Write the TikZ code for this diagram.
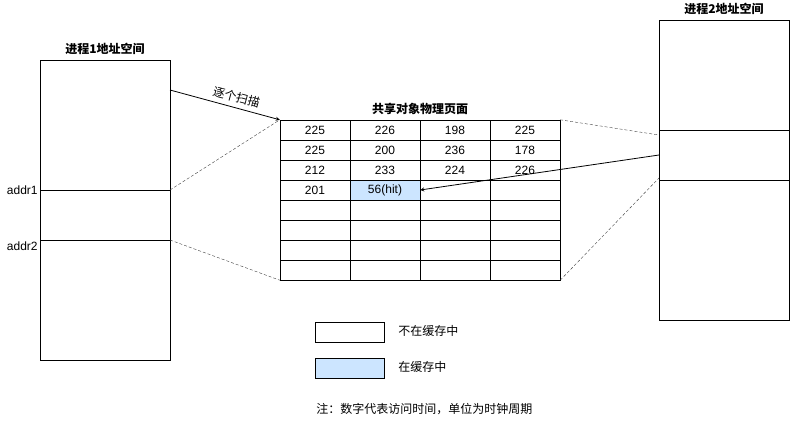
\documentclass[tikz,border=0pt]{standalone}
\usepackage{fontspec}
\usetikzlibrary{positioning}
\setmainfont{Liberation Sans}
\newfontfamily\cjk{Noto Sans CJK SC}
\definecolor{hitblue}{HTML}{CCE5FF}
\tikzset{
    cell/.style={draw, thin, minimum width=70pt, minimum height=20pt, inner sep=0pt, font=\fontsize{12}{13}\selectfont},
    title/.style={font=\cjk\bfseries\fontsize{12}{13}\selectfont},
    note/.style={font=\cjk\fontsize{12}{13}\selectfont, anchor=west, inner sep=0pt},
    link/.style={dashed, dash pattern=on 3pt off 2pt, thin, black!75}
}
\begin{document}
\begin{tikzpicture}[x=1pt, y=-1pt, line width=0.8pt]
        \useasboundingbox (0,0) rectangle (790,421);
        % process 1
        \node[draw, minimum width=130pt, minimum height=300pt, inner sep=0pt] (p1) at (105,210) {};
        \node[title, above=1pt of p1] (p1title) {进程1地址空间};
        \coordinate (a1l) at (40,190);  \coordinate (a1r) at (170,190);
        \coordinate (a2l) at (40,240);  \coordinate (a2r) at (170,240);
        \draw (a1l) -- (a1r);
        \draw (a2l) -- (a2r);
        \node[anchor=east, inner sep=2pt, font=\fontsize{12}{13}\selectfont] (addr1) at (a1l) {addr1};
        \node[anchor=east, inner sep=2pt, font=\fontsize{12}{13}\selectfont] (addr2) at ([yshift=-6pt]a2l) {addr2};

        % shared page
        \foreach \r/\a/\b/\c/\d in {1/225/226/198/225, 2/225/200/236/178, 3/212/233/224/226, 4/201/{}/{}/{},
                                    5/{}/{}/{}/{}, 6/{}/{}/{}/{}, 7/{}/{}/{}/{}, 8/{}/{}/{}/{}}{
            \node[cell] (c\r-1) at (315,110+20*\r) {\a};
            \node[cell] (c\r-2) at (385,110+20*\r) {\b};
            \node[cell] (c\r-3) at (455,110+20*\r) {\c};
            \node[cell] (c\r-4) at (525,110+20*\r) {\d};
        }
        \node[cell, fill=hitblue] (hit) at (c4-2) {56(hit)};
        \node[title, above=1pt of c1-2.north east] (pagetitle) {共享对象物理页面};

        % process 2
        \node[draw, minimum width=130pt, minimum height=300pt, inner sep=0pt] (p2) at (724,170) {};
        \node[title, above=1pt of p2] (p2title) {进程2地址空间};
        \coordinate (b1l) at (659,130);  \coordinate (b1r) at (789,130);
        \coordinate (b2l) at (659,180);  \coordinate (b2r) at (789,180);
        \draw (b1l) -- (b1r);
        \draw (b2l) -- (b2r);

        % mappings
        \draw[link] (a1r) -- (c1-1.north west);
        \draw[link] (a2r) -- (c8-1.south west);
        \draw[link] (c1-4.north east) -- ([yshift=-5pt]b1l);
        \draw[link] (c8-4.south east) -- ([yshift=2pt]b2l);
        \coordinate (scan) at (170,90);
        \draw[-stealth] (scan) -- (c1-1.north west)
            node[pos=0.58, above=1pt, sloped, font=\cjk\fontsize{12}{13}\selectfont] (scanlbl) {逐个扫描};
        \coordinate (hitsrc) at (659,155);
        \draw[-stealth] (hitsrc) -- (hit.east);

        % legend
        \node[draw, thin, minimum width=69pt, minimum height=20pt, inner sep=0pt] (miss) at (349.5,332) {};
        \node[draw, thin, fill=hitblue, minimum width=69pt, minimum height=20pt, inner sep=0pt] (inc) at (349.5,368) {};
        \node[note] (misslbl) at (398,331) {不在缓存中};
        \node[note] (inclbl) at (398,367) {在缓存中};
        \node[note] (footnote) at (316,409) {注：数字代表访问时间，单位为时钟周期};
    \end{tikzpicture}
\end{document}
